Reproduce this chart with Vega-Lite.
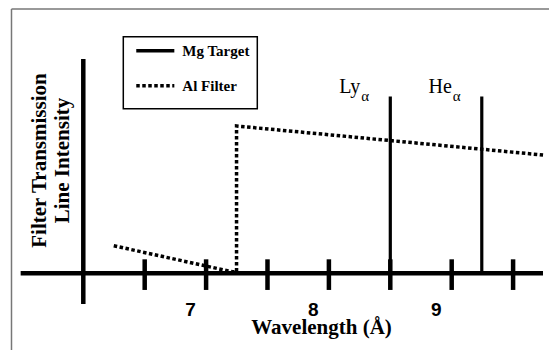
{
  "$schema": "https://vega.github.io/schema/vega-lite/v6.json",
  "width": 549,
  "height": 350,
  "padding": 0,
  "autosize": {"type": "none"},
  "background": "white",
  "config": {
    "view": {"stroke": null},
    "legend": {
      "strokeWidth": 1.5,
      "strokeColor": "black",
      "symbolType": "stroke",
      "symbolSize": 1450,
      "symbolStrokeWidth": 3.5,
      "symbolStrokeColor": "black",
      "symbolOffset": 4,
      "labelOffset": 6,
      "labelFont": "Liberation Serif",
      "labelFontWeight": "bold",
      "labelFontSize": 15,
      "labelColor": "black",
      "labelLimit": 300,
      "padding": 7,
      "clipHeight": 14,
      "rowPadding": 20
    }
  },
  "resolve": {"axis": {"x": "independent", "y": "independent"}},
  "datasets": {
    "frame": [
      {"x": 5.4153, "y": 1.7943, "x2": 9.7924, "y2": 1.7943},
      {"x": 5.4153, "y": 1.7943, "x2": 5.4153, "y2": -0.5207}
    ],
    "axislines": [
      {"x": 5.49, "y": 0, "x2": 9.7435, "y2": 0},
      {"x": 6, "y": 1.4549, "x2": 6, "y2": -0.2084}
    ],
    "ticks": [
      {"t": 6.5, "lo": -0.113, "hi": 0.095},
      {"t": 7, "lo": -0.113, "hi": 0.095},
      {"t": 7.5, "lo": -0.113, "hi": 0.095},
      {"t": 8, "lo": -0.113, "hi": 0.095},
      {"t": 8.5, "lo": -0.113, "hi": 0.095},
      {"t": 9, "lo": -0.113, "hi": 0.095},
      {"t": 9.5, "lo": -0.113, "hi": 0.095}
    ],
    "filter": [
      {"i": 1, "wavelength": 6.248, "value": 0.187, "series": "Al Filter"},
      {"i": 2, "wavelength": 7.215, "value": 0.01, "series": "Al Filter"},
      {"i": 3, "wavelength": 7.248, "value": 0.01, "series": "Al Filter"},
      {"i": 4, "wavelength": 7.248, "value": 1.0, "series": "Al Filter"},
      {"i": 5, "wavelength": 9.744, "value": 0.803, "series": "Al Filter"}
    ],
    "lines": [
      {"wavelength": 8.5, "base": 0, "intensity": 1.2, "series": "Mg Target", "label": "Ly", "sub": "α"},
      {"wavelength": 9.245, "base": 0, "intensity": 1.2, "series": "Mg Target", "label": "He", "sub": "α"}
    ]
  },
  "layer": [
    {
      "data": {"name": "frame"},
      "mark": {"type": "rule", "color": "#777777", "strokeWidth": 1.5},
      "encoding": {
        "x": {"field": "x", "type": "quantitative", "scale": {"domain": [5.3217, 9.7924], "nice": false, "zero": false}, "axis": null},
        "y": {"field": "y", "type": "quantitative", "scale": {"domain": [-0.5207, 1.8554], "nice": false, "zero": false}, "axis": null},
        "x2": {"field": "x2"},
        "y2": {"field": "y2"}
      }
    },
    {
      "data": {"name": "axislines"},
      "mark": {"type": "rule", "color": "black", "strokeWidth": 4.5},
      "encoding": {
        "x": {
          "field": "x", "type": "quantitative",
          "axis": {
            "offset": -76.7, "domain": false, "ticks": false, "tickSize": 0, "grid": false,
            "values": [7, 8, 9], "labelOffset": -16, "labelPadding": 41.7,
            "labelBaseline": "alphabetic", "labelFont": "Liberation Sans", "labelFontWeight": "bold",
            "labelFontSize": 19, "labelColor": "black",
            "title": "Wavelength (Å)", "titleX": 321, "titleY": 60.5,
            "titleAlign": "center", "titleBaseline": "alphabetic", "titleFont": "Liberation Serif",
            "titleFontWeight": "bold", "titleFontSize": 21, "titleColor": "black"
          }
        },
        "y": {
          "field": "y", "type": "quantitative",
          "axis": {
            "domain": false, "ticks": false, "labels": false, "grid": false,
            "title": ["Filter Transmission", "Line Intensity"],
            "titleX": 45, "titleY": 160, "titleAngle": -90, "titleAlign": "center",
            "titleBaseline": "alphabetic", "titleFont": "Liberation Serif", "titleFontWeight": "bold",
            "titleFontSize": 21, "titleLineHeight": 23, "titleColor": "black"
          }
        },
        "x2": {"field": "x2"},
        "y2": {"field": "y2"}
      }
    },
    {
      "data": {"name": "ticks"},
      "mark": {"type": "rule", "color": "black", "strokeWidth": 4.5},
      "encoding": {
        "x": {"field": "t", "type": "quantitative", "axis": null},
        "y": {"field": "hi", "type": "quantitative", "axis": null},
        "y2": {"field": "lo"}
      }
    },
    {
      "data": {"name": "lines"},
      "mark": {"type": "rule", "color": "black", "strokeWidth": 3.2},
      "encoding": {
        "x": {"field": "wavelength", "type": "quantitative", "axis": null},
        "y": {"field": "base", "type": "quantitative", "axis": null},
        "y2": {"field": "intensity"},
        "strokeDash": {
          "field": "series", "type": "nominal",
          "scale": {"domain": ["Mg Target", "Al Filter"], "range": [[1, 0], [3.5, 2.5]]},
          "legend": {
            "orient": "none", "legendX": 123.3, "legendY": 36.7,
            "title": "\u00a0", "titleOrient": "bottom", "titleFontSize": 6, "titlePadding": 2,
            "labelExpr": "datum.label + '\u00a0\u00a0\u00a0\u00a0\u00a0\u00a0'"
          }
        }
      }
    },
    {
      "data": {"name": "filter"},
      "mark": {"type": "line", "color": "black", "strokeWidth": 3.5, "strokeCap": "butt"},
      "encoding": {
        "x": {"field": "wavelength", "type": "quantitative", "axis": null},
        "y": {"field": "value", "type": "quantitative", "axis": null},
        "order": {"field": "i", "type": "quantitative"},
        "strokeDash": {
          "field": "series", "type": "nominal",
          "scale": {"domain": ["Mg Target", "Al Filter"], "range": [[1, 0], [3.5, 2.5]]},
          "legend": {
            "orient": "none", "legendX": 123.3, "legendY": 36.7,
            "title": "\u00a0", "titleOrient": "bottom", "titleFontSize": 6, "titlePadding": 2,
            "labelExpr": "datum.label + '\u00a0\u00a0\u00a0\u00a0\u00a0\u00a0'"
          }
        }
      }
    },
    {
      "data": {"name": "lines"},
      "mark": {"type": "text", "font": "Liberation Serif", "fontSize": 20, "align": "right", "baseline": "alphabetic", "dx": -30, "dy": -4, "color": "black"},
      "encoding": {
        "x": {"field": "wavelength", "type": "quantitative", "axis": null},
        "y": {"field": "intensity", "type": "quantitative", "axis": null},
        "text": {"field": "label"}
      }
    },
    {
      "data": {"name": "lines"},
      "mark": {"type": "text", "font": "Liberation Serif", "fontSize": 15, "align": "left", "baseline": "alphabetic", "dx": -29, "dy": 4, "color": "black"},
      "encoding": {
        "x": {"field": "wavelength", "type": "quantitative", "axis": null},
        "y": {"field": "intensity", "type": "quantitative", "axis": null},
        "text": {"field": "sub"}
      }
    }
  ]
}
